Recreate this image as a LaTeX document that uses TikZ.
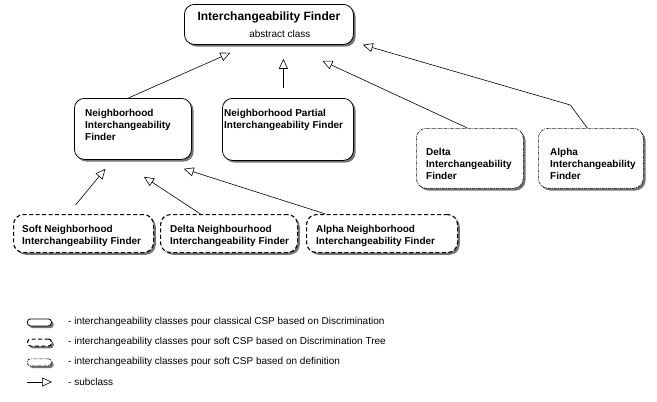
\documentclass[tikz,border=0pt]{standalone}
\usepackage{fontspec}
\setmainfont{Liberation Sans}
\usetikzlibrary{arrows.meta,shadows}

\begin{document}
\begin{tikzpicture}[
        x=1pt, y=-1pt,
        box/.style={draw, fill=white, rounded corners=10pt, inner sep=0pt, anchor=north west,
            drop shadow={shadow xshift=2.2pt, shadow yshift=-2.2pt, fill=black!55, opacity=1}},
        classical/.style={box, line width=0.8pt},
        softtree/.style={box, line width=1.1pt, dash pattern=on 4pt off 2.5pt},
        softdef/.style={box, line width=0.6pt, dash pattern=on 3pt off 1pt on 1pt off 1pt},
        boxtext/.style={anchor=north west, inner sep=0pt, align=left,
            font=\fontsize{10}{12}\selectfont\bfseries},
        subclass/.style={-{Triangle[open, length=10pt, width=9pt, fill=white]}, line width=0.6pt},
        legtext/.style={anchor=west, inner sep=0pt, font=\fontsize{10}{12}\selectfont},
    ]
        \useasboundingbox (0,0) rectangle (657,402);

        \node[classical, minimum width=169pt, minimum height=40pt, align=center,
            font=\fontsize{10}{17}\selectfont] (ifinder) at (184,4)
            {{\fontsize{12}{17}\selectfont\bfseries Interchangeability Finder}\\\hspace*{22pt}abstract class};

        \node[classical, minimum width=117pt, minimum height=61pt] (nif) at (74,98) {};
        \node[boxtext] (nif-text) at (85,109.5) {Neighborhood\\Interchangeability\\Finder};

        \node[classical, minimum width=131pt, minimum height=62pt] (npif) at (222,98) {};
        \node[boxtext] (npif-text) at (224,109.5) {Neighborhood Partial\\Interchangeability Finder};

        \node[softdef, minimum width=107pt, minimum height=60pt] (dif) at (416,128) {};
        \node[boxtext] (dif-text) at (426,148.5) {Delta\\Interchangeability\\Finder};

        \node[softdef, minimum width=105pt, minimum height=60pt] (aif) at (538,128) {};
        \node[boxtext] (aif-text) at (550,148.5) {Alpha\\Interchangeability\\Finder};

        \node[softtree, minimum width=140pt, minimum height=38pt] (snif) at (13,214) {};
        \node[boxtext] (snif-text) at (22,225.5) {Soft Neighborhood\\Interchangeability Finder};

        \node[softtree, minimum width=137pt, minimum height=38pt] (dnif) at (160,214) {};
        \node[boxtext] (dnif-text) at (170,225.5) {Delta Neighbourhood\\Interchangeability Finder};

        \node[softtree, minimum width=151pt, minimum height=38pt] (anif) at (306,214) {};
        \node[boxtext] (anif-text) at (316,225.5) {Alpha Neighborhood\\Interchangeability Finder};

        \draw[subclass] ([xshift=-4.5pt]nif.north) -- ([xshift=-38.5pt, yshift=-8pt]ifinder.south);
        \draw[subclass] ([xshift=-4.5pt, yshift=10pt]npif.north) -- ([xshift=14.5pt, yshift=-14pt]ifinder.south);
        \draw[subclass] ([xshift=-2.5pt]dif.north) -- ([xshift=53.5pt, yshift=-16pt]ifinder.south);
        \draw[subclass] ([xshift=-3.5pt]aif.north) -- ([xshift=-20.5pt, yshift=23pt]aif.north)
            -- ([xshift=9pt]ifinder.south east);

        \draw[subclass] ([xshift=-8pt, yshift=9pt]snif.north) -- ([xshift=-27.5pt, yshift=-9pt]nif.south);
        \draw[subclass] ([xshift=-28.5pt]dnif.north) -- ([xshift=11pt, yshift=-17pt]nif.south);
        \draw[subclass] ([xshift=-56.5pt]anif.north) -- ([xshift=-8pt, yshift=-9pt]nif.south east);

        \node[classical, minimum width=24pt, minimum height=7pt, rounded corners=3pt] (leg-classical) at (27,318.5) {};
        \node[softtree, minimum width=24pt, minimum height=7pt, rounded corners=3pt] (leg-softtree) at (27,338.5) {};
        \node[softdef, minimum width=24pt, minimum height=7pt, rounded corners=3pt] (leg-softdef) at (27,358.5) {};
        \coordinate (leg-from) at (27,382);
        \coordinate (leg-to) at (52,382);
        \draw[subclass] (leg-from) -- (leg-to);

        \node[legtext] (leg-classical-text) at (68,322) {- interchangeability classes pour classical CSP based on Discrimination};
        \node[legtext] (leg-softtree-text) at (68,342) {- interchangeability classes pour soft CSP based on Discrimination Tree};
        \node[legtext] (leg-softdef-text) at (68,362) {- interchangeability classes pour soft CSP based on definition};
        \node[legtext] (leg-subclass-text) at (68,382) {- subclass};
    \end{tikzpicture}
\end{document}
